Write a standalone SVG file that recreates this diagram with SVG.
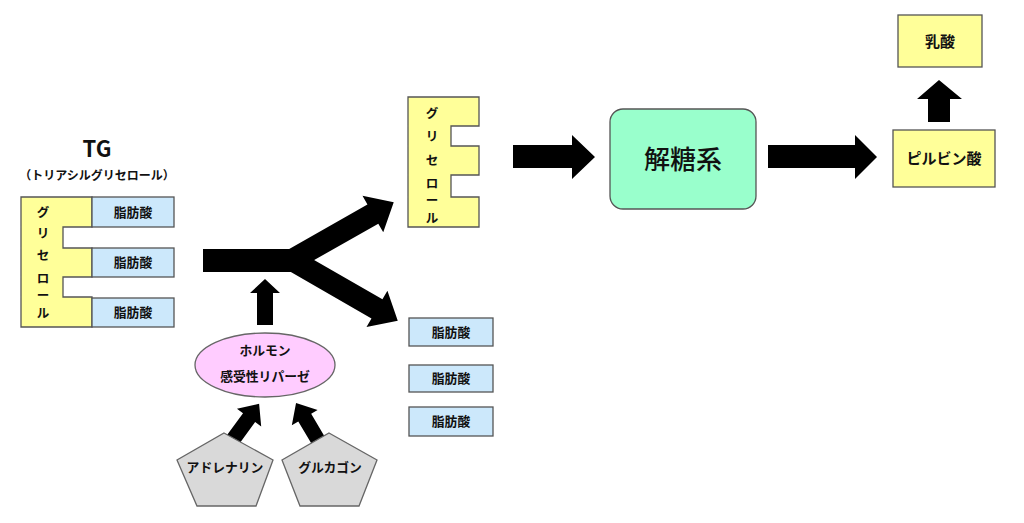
<svg xmlns="http://www.w3.org/2000/svg" width="1024" height="523" viewBox="0 0 1024 523">
<defs>
<style>
text{font-family:"Noto Sans CJK JP","Noto Sans",sans-serif;font-weight:bold;fill:#111;text-anchor:middle;}
.y{fill:#ffff99;stroke:#555;stroke-width:1.3;}
.b{fill:#cce8fb;stroke:#555;stroke-width:1.3;}
.g{fill:#d9d9d9;stroke:#666;stroke-width:1.3;}
.arr{fill:#000;}
.fa{font-size:12.8px;}
.v{font-size:12.5px;}
</style>
</defs>
<rect width="1024" height="523" fill="#fff"/>
<g id="connectors">
<rect class="arr" x="203" y="249" width="95" height="23"/>
<path class="arr" transform="translate(292,260) rotate(-29.6)" d="M0,-11 H93 V-21 L117,0 L93,21 V11 H0 Z"/>
<path class="arr" transform="translate(292,260) rotate(29.9)" d="M0,-11 H98 V-21 L122,0 L98,21 V11 H0 Z"/>
<polygon class="arr" points="257,325 273,325 273,293 280,293 265,279 250,293 257,293"/>
<path class="arr" transform="translate(232,441) rotate(-53.9)" d="M0,-7.5 H29 V-15 L46,0 L29,15 V7.5 H0 Z"/>
<path class="arr" transform="translate(318,440) rotate(-120.7)" d="M0,-7.5 H26 V-15 L43,0 L26,15 V7.5 H0 Z"/>
<polygon class="arr" points="513,145 572,145 572,135 595,157 572,179 572,168 513,168"/>
<polygon class="arr" points="768,145 855,145 855,135 877,157 855,179 855,168 768,168"/>
<polygon class="arr" points="928,122 950,122 950,99 962,99 939,80 917,99 928,99"/>
</g>
<g id="tg-title">
<text x="97" y="157" style="font-size:22px">TG</text>
<text x="97" y="179.5" style="font-size:12px">（トリアシルグリセロール）</text>
</g>
<g id="tg-glycerol">
<path class="y" d="M21,197 H92 V227 H63 V248 H92 V277 H63 V297 H92 V327 H21 Z"/>
<text class="v" x="43" y="216.5">グ</text>
<text class="v" x="43" y="238">リ</text>
<text class="v" x="43" y="259.5">セ</text>
<text class="v" x="43" y="282.5">ロ</text>
<text class="v" x="43" y="299.5">ー</text>
<text class="v" x="43" y="317.5">ル</text>
</g>
<g id="tg-fa1"><rect class="b" x="92" y="197" width="82" height="30"/><text class="fa" x="133" y="216.5">脂肪酸</text></g>
<g id="tg-fa2"><rect class="b" x="92" y="248" width="82" height="29"/><text class="fa" x="133" y="267">脂肪酸</text></g>
<g id="tg-fa3"><rect class="b" x="92" y="298" width="82" height="29"/><text class="fa" x="133" y="317">脂肪酸</text></g>
<g id="lipase">
<ellipse cx="265" cy="365" rx="70" ry="32" fill="#ffccff" stroke="#666" stroke-width="1.3"/>
<text x="265" y="354.5" style="font-size:12.8px">ホルモン</text>
<text x="265" y="380.5" style="font-size:12.8px">感受性リパーゼ</text>
</g>
<g id="adrenaline">
<polygon class="g" points="224,433 273,460 256,506 197,506 177,460"/>
<text x="225" y="471.5" style="font-size:12.8px">アドレナリン</text>
</g>
<g id="glucagon">
<polygon class="g" points="329,433 377,460 359,506 300,506 282,460"/>
<text x="330" y="471.5" style="font-size:12.8px">グルカゴン</text>
</g>
<g id="glycerol">
<path class="y" d="M408,97 H479 V126 H451 V146 H479 V175 H451 V197 H479 V227 H408 Z"/>
<text class="v" x="432" y="117.5">グ</text>
<text class="v" x="432" y="140.5">リ</text>
<text class="v" x="432" y="164.5">セ</text>
<text class="v" x="432" y="187.5">ロ</text>
<text class="v" x="432" y="204.5">ー</text>
<text class="v" x="432" y="222.5">ル</text>
</g>
<g id="fa1"><rect class="b" x="409" y="318" width="84" height="28"/><text class="fa" x="451" y="336.5">脂肪酸</text></g>
<g id="fa2"><rect class="b" x="409" y="365" width="84" height="27"/><text class="fa" x="451" y="383">脂肪酸</text></g>
<g id="fa3"><rect class="b" x="409" y="407" width="84" height="29"/><text class="fa" x="451" y="426">脂肪酸</text></g>
<g id="glycolysis">
<rect x="610" y="109" width="146" height="100" rx="13" fill="#99ffcc" stroke="#555" stroke-width="1.3"/>
<text x="683" y="169" style="font-size:26px;font-weight:500">解糖系</text>
</g>
<g id="pyruvate">
<rect class="y" x="893" y="130" width="102" height="57"/>
<text x="944" y="163.5" style="font-size:15px">ピルビン酸</text>
</g>
<g id="lactate">
<rect class="y" x="898" y="15" width="84" height="52"/>
<text x="940" y="46.5" style="font-size:15px">乳酸</text>
</g>
</svg>
